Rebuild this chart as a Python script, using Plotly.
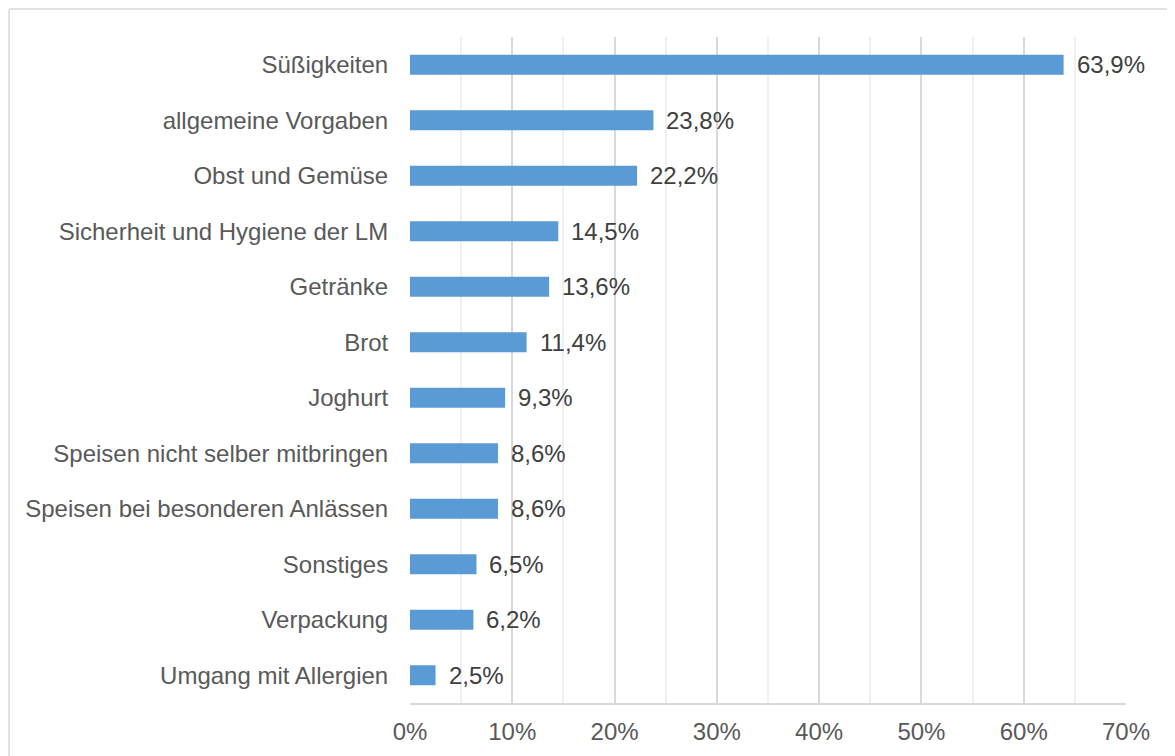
import plotly.graph_objects as go

categories = [
    "Süßigkeiten",
    "allgemeine Vorgaben",
    "Obst und Gemüse",
    "Sicherheit und Hygiene der LM",
    "Getränke",
    "Brot",
    "Joghurt",
    "Speisen nicht selber mitbringen",
    "Speisen bei besonderen Anlässen",
    "Sonstiges",
    "Verpackung",
    "Umgang mit Allergien",
]
values = [63.9, 23.8, 22.2, 14.5, 13.6, 11.4, 9.3, 8.6, 8.6, 6.5, 6.2, 2.5]
tick_vals = [0, 10, 20, 30, 40, 50, 60, 70]
tick_text = [f"{v}%" for v in tick_vals]

W, H = 1167, 748
L, R, T, B = 402, 49, 29, 53
FONT = "Liberation Sans, Arial, sans-serif"

labels = [f"{v:.1f}%".replace(".", ",") for v in values]

fig = go.Figure(
    go.Bar(
        y=categories,
        x=values,
        orientation="h",
        marker=dict(color="#5b9bd5", line=dict(width=0)),
        hoverinfo="skip",
    )
)

for c, v, t in zip(categories, values, labels):
    fig.add_annotation(
        x=v, y=c, text=t, showarrow=False, xanchor="left", xshift=11,
        font=dict(family=FONT, size=24, color="#404040"),
    )

pw = W - L - R
ph = H - T - B
# frame: only top and left edges are visible inside the window
fig.add_shape(
    type="line", xref="paper", yref="paper",
    x0=(1 - L) / pw, x1=(W + 50 - L) / pw,
    y0=(H - B - 1) / ph, y1=(H - B - 1) / ph,
    line=dict(color="#d9d9d9", width=1.5), layer="below",
)
fig.add_shape(
    type="line", xref="paper", yref="paper",
    x0=(1 - L) / pw, x1=(1 - L) / pw,
    y0=(H - B - 1) / ph, y1=-(B + 50) / ph,
    line=dict(color="#d9d9d9", width=1.5), layer="below",
)

fig.update_layout(
    width=W, height=H,
    margin=dict(l=L, r=R, t=T, b=B),
    paper_bgcolor="white", plot_bgcolor="white",
    bargap=0.64,
    showlegend=False,
    font=dict(family=FONT, size=24, color="#595959"),
    xaxis=dict(
        range=[0, 70], tickvals=tick_vals, ticktext=tick_text,
        showgrid=True, gridcolor="#d9d9d9", gridwidth=1.5,
        minor=dict(dtick=5, showgrid=True, gridcolor="#f0f0f0", gridwidth=1.5),
        zeroline=False,
        showline=True, linecolor="#d9d9d9", linewidth=2,
        ticks="outside", ticklen=6, tickcolor="rgba(0,0,0,0)",
        tickfont=dict(family=FONT, size=24, color="#595959"),
        fixedrange=True,
    ),
    yaxis=dict(
        categoryorder="array", categoryarray=categories[::-1],
        autorange=True,
        showgrid=False, zeroline=False, showline=False,
        ticks="outside", ticklen=16, tickcolor="rgba(0,0,0,0)",
        tickfont=dict(family=FONT, size=24, color="#595959"),
        fixedrange=True,
    ),
)

fig.write_html("out.html")
